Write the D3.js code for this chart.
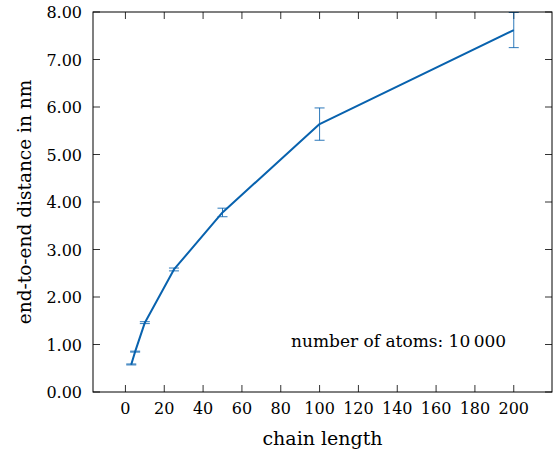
<!DOCTYPE html>
<html>
<head>
<meta charset="utf-8">
<script src="https://cdn.jsdelivr.net/npm/d3@7"></script>
<style>
  html, body { margin: 0; padding: 0; background: #fff; }
  svg text { font-family: "DejaVu Serif", serif; fill: #000; }
</style>
</head>
<body>
<div id="chart"></div>
<script>
// chain length vs end-to-end distance (nm), symmetric error
const chainLength = [3, 5, 10, 25, 50, 100, 200];
const distance = [0.58, 0.85, 1.46, 2.58, 3.78, 5.64, 7.62];
const distErr = [0.01, 0.01, 0.02, 0.03, 0.09, 0.34, 0.37];

const xTicks = [0, 20, 40, 60, 80, 100, 120, 140, 160, 180, 200];
const yTicks = [0, 1, 2, 3, 4, 5, 6, 7, 8];

const width = 558, height = 456;
const margin = { top: 12, right: 6, bottom: 64, left: 93 };
const blue = "#0862ae";

const svg = d3.select("#chart").append("svg")
  .attr("width", width)
  .attr("height", height);

const x = d3.scaleLinear()
  .domain([-16.7, 219.7])
  .range([margin.left, width - margin.right]);

const y = d3.scaleLinear()
  .domain([0, 8])
  .range([height - margin.bottom, margin.top]);

const tickLen = 7;

// ticks on all four sides, pointing inward
const g = svg.append("g");
xTicks.forEach(t => {
  g.append("line").attr("x1", x(t)).attr("x2", x(t))
    .attr("y1", y(0)).attr("y2", y(0) - tickLen);
  g.append("line").attr("x1", x(t)).attr("x2", x(t))
    .attr("y1", y(8)).attr("y2", y(8) + tickLen);
});
yTicks.forEach(t => {
  g.append("line").attr("x1", x.range()[0]).attr("x2", x.range()[0] + tickLen)
    .attr("y1", y(t)).attr("y2", y(t));
  g.append("line").attr("x1", x.range()[1]).attr("x2", x.range()[1] - tickLen)
    .attr("y1", y(t)).attr("y2", y(t));
});
g.selectAll("line").attr("stroke", "#333").attr("stroke-width", 1);

// tick labels
svg.append("g").selectAll("text")
  .data(xTicks).join("text")
  .attr("x", d => x(d))
  .attr("y", y(0) + 22)
  .attr("text-anchor", "middle")
  .attr("font-size", 16)
  .text(d => d);

svg.append("g").selectAll("text")
  .data(yTicks).join("text")
  .attr("x", x.range()[0] - 11)
  .attr("y", d => y(d) + 6)
  .attr("text-anchor", "end")
  .attr("font-size", 16)
  .text(d => d3.format(".2f")(d));

// error bars
const capW = 5;
const eb = svg.append("g")
  .attr("stroke", blue)
  .attr("stroke-width", 1)
  .attr("stroke-opacity", 0.85);
chainLength.forEach((c, i) => {
  const lo = y(distance[i] - distErr[i]), hi = y(distance[i] + distErr[i]);
  eb.append("line").attr("x1", x(c)).attr("x2", x(c)).attr("y1", lo).attr("y2", hi);
  eb.append("line").attr("x1", x(c) - capW).attr("x2", x(c) + capW).attr("y1", lo).attr("y2", lo);
  eb.append("line").attr("x1", x(c) - capW).attr("x2", x(c) + capW).attr("y1", hi).attr("y2", hi);
});

// main line
const line = d3.line()
  .x((d, i) => x(chainLength[i]))
  .y(d => y(d));

svg.append("path")
  .datum(distance)
  .attr("fill", "none")
  .attr("stroke", blue)
  .attr("stroke-width", 2)
  .attr("stroke-linejoin", "round")
  .attr("d", line);

// axis frame
svg.append("rect")
  .attr("x", x.range()[0])
  .attr("y", y(8))
  .attr("width", x.range()[1] - x.range()[0])
  .attr("height", y(0) - y(8))
  .attr("fill", "none")
  .attr("stroke", "#000")
  .attr("stroke-width", 1);

// axis labels
svg.append("text")
  .attr("x", (x.range()[0] + x.range()[1]) / 2)
  .attr("y", y(0) + 53)
  .attr("text-anchor", "middle")
  .attr("font-size", 19)
  .text("chain length");

svg.append("text")
  .attr("transform", `translate(31, ${(y(0) + y(8)) / 2}) rotate(-90)`)
  .attr("text-anchor", "middle")
  .attr("font-size", 18.5)
  .text("end-to-end distance in nm");

// annotation
svg.append("text")
  .attr("x", x.range()[0] + 0.9 * (x.range()[1] - x.range()[0]))
  .attr("y", y(0) - 45)
  .attr("text-anchor", "end")
  .attr("font-size", 17)
  .text("number of atoms:  10\u2009000");
</script>
</body>
</html>
